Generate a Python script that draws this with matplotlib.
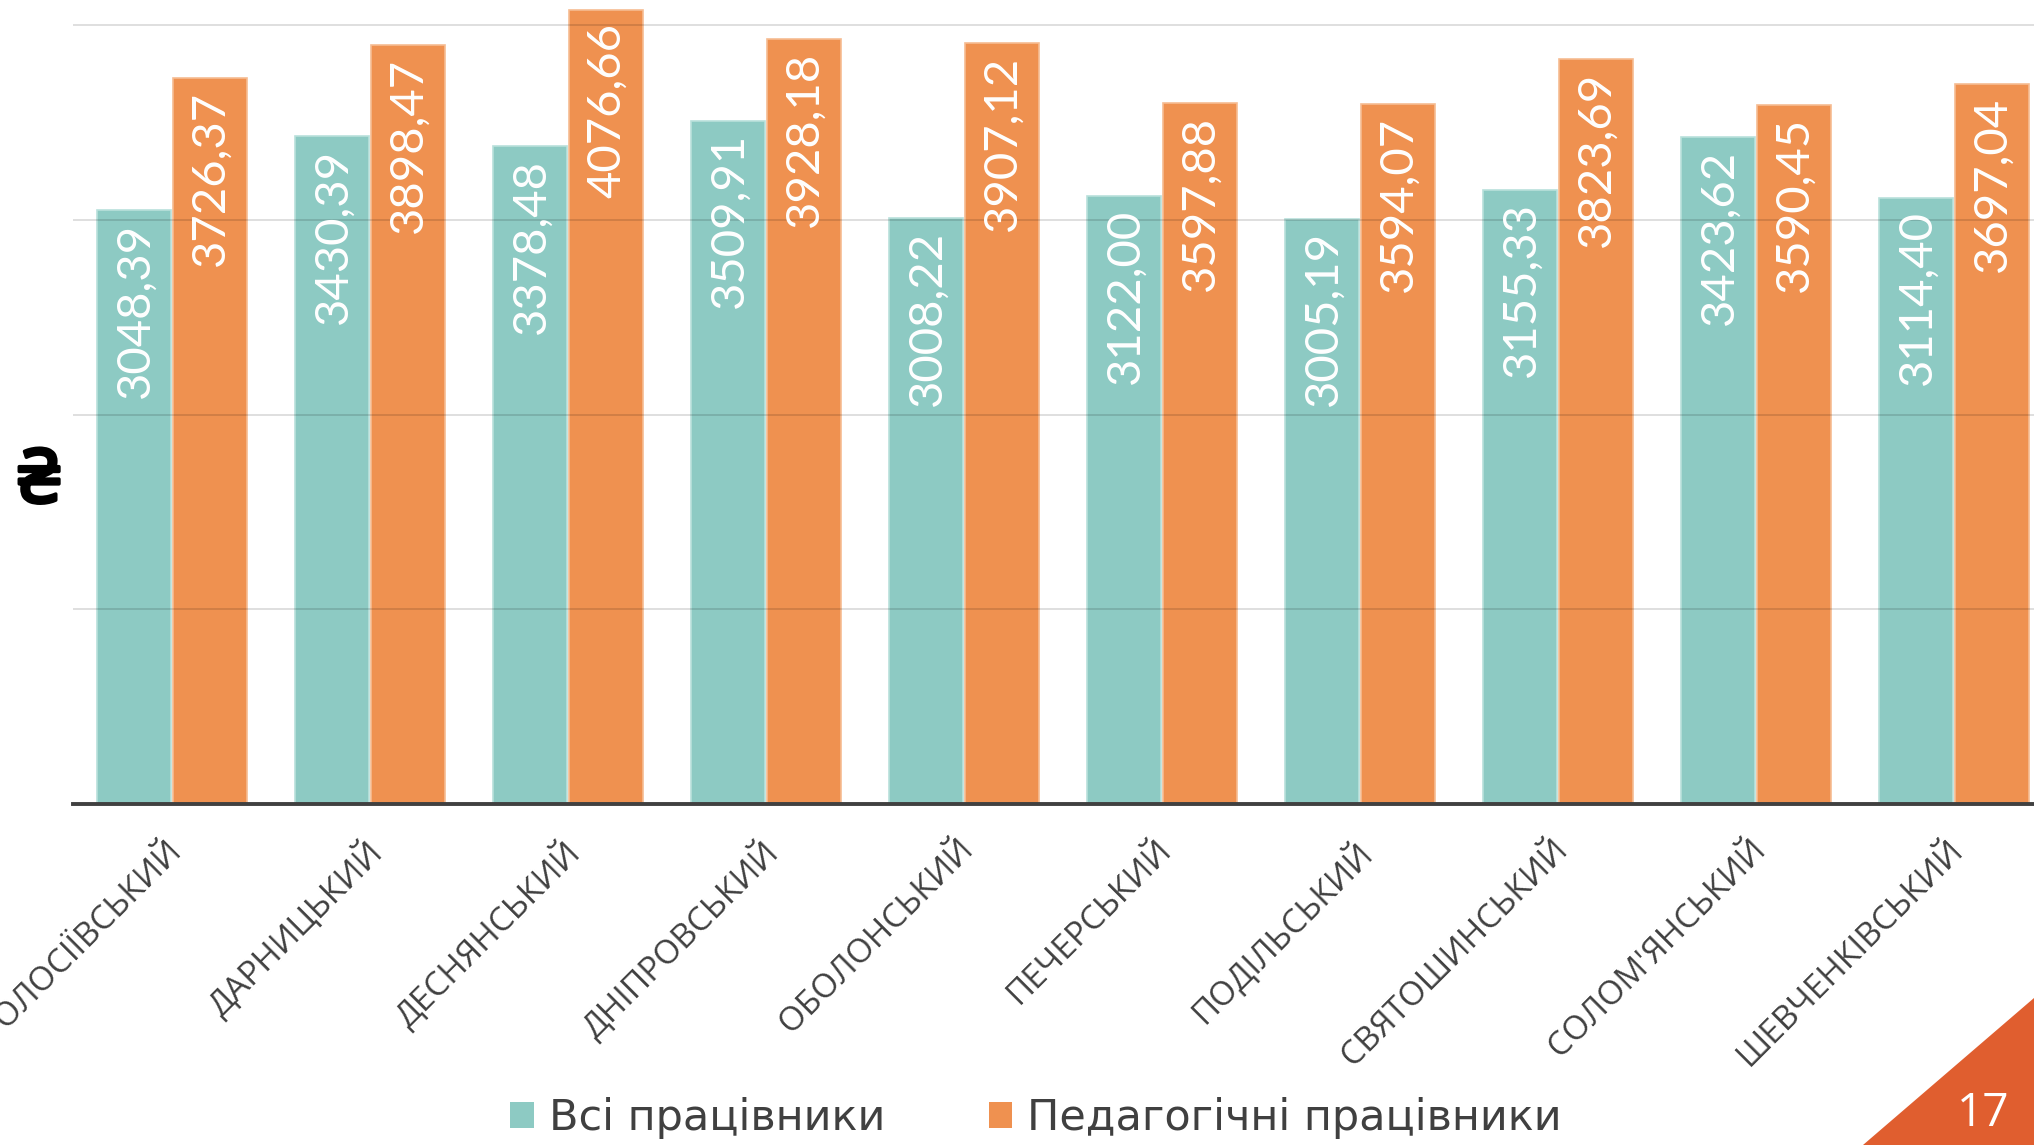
import matplotlib
matplotlib.use("Agg")
import matplotlib.pyplot as plt
from matplotlib.patches import Patch, Polygon
import matplotlib.patheffects as pe
import numpy as np

categories = ["ГОЛОСІЇВСЬКИЙ", "ДАРНИЦЬКИЙ", "ДЕСНЯНСЬКИЙ", "ДНІПРОВСЬКИЙ",
              "ОБОЛОНСЬКИЙ", "ПЕЧЕРСЬКИЙ", "ПОДІЛЬСЬКИЙ", "СВЯТОШИНСЬКИЙ",
              "СОЛОМ'ЯНСЬКИЙ", "ШЕВЧЕНКІВСЬКИЙ"]
all_workers = [3048.39, 3430.39, 3378.48, 3509.91, 3008.22,
               3122.00, 3005.19, 3155.33, 3423.62, 3114.40]
ped_workers = [3726.37, 3898.47, 4076.66, 3928.18, 3907.12,
               3597.88, 3594.07, 3823.69, 3590.45, 3697.04]
series_names = ["Всі працівники", "Педагогічні працівники"]
yticks = [0, 1000, 2000, 3000, 4000]
page_number = "17"

TEAL = "#8DCAC3"
ORANGE = "#EF9150"
TEXT = "#404040"

W, H = 2034, 1145
fig = plt.figure(figsize=(W / 100, H / 100), dpi=100)
ax = fig.add_axes([73 / W, (H - 804) / H, 1980 / W, 804 / H])

x = np.arange(len(categories))
bw = 0.374
off = 0.19
ax.bar(x - off, all_workers, bw, color=TEAL, edgecolor="#B9E0DB", linewidth=1.2, zorder=2)
ax.bar(x + off, ped_workers, bw, color=ORANGE, edgecolor="#F6BC92", linewidth=1.2, zorder=2)

ax.set_xlim(-0.5, len(categories) - 0.5)
ax.set_ylim(0, 4129)
ax.set_yticks(yticks)
ax.set_axisbelow(False)
ax.yaxis.grid(True, color="#000000", alpha=0.13, linewidth=1.4, zorder=3)
ax.tick_params(axis="y", length=0, labelleft=False)
ax.tick_params(axis="x", length=0, labelbottom=False)
for s in ["top", "right", "left"]:
    ax.spines[s].set_visible(False)
ax.spines["bottom"].set_color(TEXT)
ax.spines["bottom"].set_linewidth(2.8)
ax.spines["bottom"].set_zorder(4)

def fmt(v):
    return f"{v:.2f}".replace(".", ",")

for xs, vals in ((x - off, all_workers), (x + off, ped_workers)):
    for xi, v in zip(xs, vals):
        ax.annotate(fmt(v), xy=(xi, v), xytext=(1, -9), textcoords="offset points",
                    rotation=90, ha="center", va="top", color="white",
                    fontsize=34, family="Lato", zorder=5)

for xi, lab in zip(x, categories):
    ax.annotate(lab, xy=(xi, 0), xytext=(-5, -21), textcoords="offset points",
                rotation=45, ha="right", va="top", rotation_mode="anchor",
                color=TEXT, fontsize=24, family="Open Sans", annotation_clip=False)

fig.text(39 / W, 1 - 483 / H, "₴", fontsize=54, fontweight="bold", color="black",
         ha="center", va="center", family=["Noto Sans", "DejaVu Sans"],
         path_effects=[pe.withStroke(linewidth=2.5, foreground="black")])

handles = [Patch(facecolor=TEAL, edgecolor="none"), Patch(facecolor=ORANGE, edgecolor="none")]
leg = fig.legend(handles, series_names, loc="center", bbox_to_anchor=(1036 / W, 27 / H),
                 ncol=2, frameon=False, prop={"family": "DejaVu Sans", "size": 31},
                 handlelength=0.55, handleheight=0.55, handletextpad=0.35,
                 columnspacing=2.4, borderpad=0, borderaxespad=0)
for t in leg.get_texts():
    t.set_color(TEXT)

tri = Polygon([(1863 / W, 0), (1, 0), (1, (H - 998) / H)], closed=True,
              transform=fig.transFigure, facecolor="#E05E2F", edgecolor="none")
fig.patches.append(tri)
fig.text(1983 / W, 1 - 1114 / H, page_number, fontsize=33, color="white",
         ha="center", va="center", family="Open Sans")

fig.savefig("out.png", dpi=100)
